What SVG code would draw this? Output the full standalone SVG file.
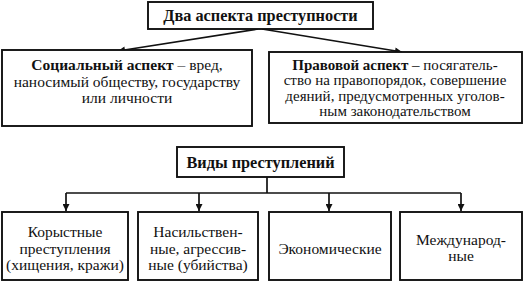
<svg xmlns="http://www.w3.org/2000/svg" width="526" height="286" viewBox="0 0 526 286">
<defs>
<marker id="ah" viewBox="0 0 10 10" refX="10" refY="5" markerWidth="10" markerHeight="7" markerUnits="userSpaceOnUse" orient="auto">
<path d="M0,0 L10,5 L0,10 Z" fill="#111"/>
</marker>
</defs>
<style>
.box{fill:#fff;stroke:#111;stroke-width:1.9}
.t{font-family:'Liberation Serif','DejaVu Serif',serif;font-size:15.5px;fill:#111;text-anchor:middle}
.s{font-size:15px}
.b{font-weight:bold}
.h{font-family:'Liberation Serif','DejaVu Serif',serif;font-size:16.3px;font-weight:bold;fill:#111;text-anchor:middle}
.c{fill:none;stroke:#111;stroke-width:1.7}
</style>
<rect width="526" height="286" fill="#fff"/>
<g id="connectors">
<line class="c" x1="258" y1="29" x2="118" y2="51" marker-end="url(#ah)"/>
<line class="c" x1="262" y1="29" x2="402" y2="52" marker-end="url(#ah)"/>
<polyline class="c" points="267,177 267,193"/>
<polyline class="c" points="66,193 461,193"/>
<line class="c" x1="66" y1="193" x2="66" y2="211" marker-end="url(#ah)"/>
<line class="c" x1="199" y1="193" x2="199" y2="211" marker-end="url(#ah)"/>
<line class="c" x1="329" y1="193" x2="329" y2="211" marker-end="url(#ah)"/>
<line class="c" x1="461" y1="193" x2="461" y2="211" marker-end="url(#ah)"/>
</g>
<g id="two-aspects">
<rect class="box" x="148" y="2" width="225" height="27"/>
<text class="h" x="260.5" y="21">Два аспекта преступности</text>
</g>
<g id="social">
<rect class="box" x="2" y="50" width="250" height="76"/>
<text class="t" x="127" y="70"><tspan class="b">Социальный аспект</tspan> – вред,</text>
<text class="t" x="127" y="87">наносимый обществу, государству</text>
<text class="t" x="127" y="103">или личности</text>
</g>
<g id="legal">
<rect class="box" x="269" y="52" width="253" height="71"/>
<text class="t s" x="395" y="69.5"><tspan class="b">Правовой аспект</tspan> – посягатель-</text>
<text class="t s" x="395" y="85">ство на правопорядок, совершение</text>
<text class="t s" x="395" y="100.5">деяний, предусмотренных уголов-</text>
<text class="t s" x="395" y="116">ным законодательством</text>
</g>
<g id="types">
<rect class="box" x="177" y="147" width="167" height="30"/>
<text class="h" x="260.5" y="168">Виды преступлений</text>
</g>
<g id="mercenary">
<rect class="box" x="2" y="212" width="126" height="68"/>
<text class="t" x="65" y="237">Корыстные</text>
<text class="t" x="65" y="254">преступления</text>
<text class="t" x="65" y="270">(хищения, кражи)</text>
</g>
<g id="violent">
<rect class="box" x="138" y="212" width="120" height="68"/>
<text class="t" x="198" y="237">Насильствен-</text>
<text class="t" x="198" y="254">ные, агрессив-</text>
<text class="t" x="198" y="270">ные (убийства)</text>
</g>
<g id="economic">
<rect class="box" x="269" y="212" width="122" height="68"/>
<text class="t" x="330" y="254">Экономические</text>
</g>
<g id="international">
<rect class="box" x="400" y="212" width="122" height="68"/>
<text class="t" x="461" y="245">Международ-</text>
<text class="t" x="461" y="261">ные</text>
</g>
</svg>
